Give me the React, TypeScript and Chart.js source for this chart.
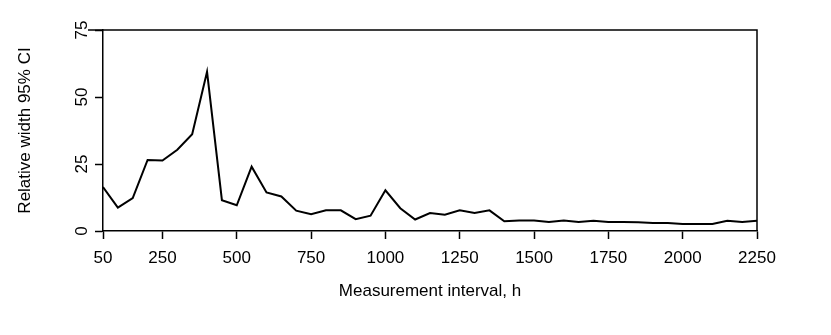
import React, { useEffect, useRef } from "react";
import { Chart, registerables } from "chart.js";

Chart.register(...registerables);

const intervals: number[] = [
  50, 100, 150, 200, 250, 300, 350, 400, 450, 500, 550, 600, 650, 700, 750,
  800, 850, 900, 950, 1000, 1050, 1100, 1150, 1200, 1250, 1300, 1350, 1400,
  1450, 1500, 1550, 1600, 1650, 1700, 1750, 1800, 1850, 1900, 1950, 2000,
  2050, 2100, 2150, 2200, 2250,
];
const relWidth: number[] = [
  16.4, 8.7, 12.3, 26.5, 26.3, 30.3, 36.1, 59.4, 11.5, 9.6, 24.0, 14.4, 12.9,
  7.6, 6.3, 7.7, 7.7, 4.4, 5.7, 15.2, 8.5, 4.3, 6.7, 6.1, 7.7, 6.7, 7.7, 3.6,
  3.9, 3.9, 3.4, 3.9, 3.4, 3.8, 3.4, 3.4, 3.3, 3.0, 3.0, 2.6, 2.6, 2.6, 3.8,
  3.4, 3.8,
];
const xTickValues: number[] = [50, 250, 500, 750, 1000, 1250, 1500, 1750, 2000, 2250];
const yTickValues: number[] = [0, 25, 50, 75];
const xTitle = "Measurement interval, h";
const yTitle = "Relative width 95% CI";

const FONT = "'Liberation Sans', Arial, Helvetica, sans-serif";

const framePlugin = {
  id: "frame",
  afterDraw(chart: any) {
    const { ctx, scales } = chart;
    const x = scales.x;
    const y = scales.y;
    const top = y.getPixelForValue(75);
    const right = x.getPixelForValue(2250);
    const left = x.getPixelForValue(50);
    const bottom = y.getPixelForValue(0);
    ctx.save();
    ctx.strokeStyle = "#000";
    ctx.lineWidth = 1.5;
    ctx.beginPath();
    ctx.moveTo(left - 15, top);
    ctx.lineTo(right, top);
    ctx.lineTo(right, bottom);
    ctx.stroke();
    ctx.restore();
  },
};

export default function App() {
  const ref = useRef<HTMLCanvasElement | null>(null);
  useEffect(() => {
    if (!ref.current) return;
    const chart = new Chart(ref.current, {
      type: "line",
      data: {
        datasets: [
          {
            data: intervals.map((v, i) => ({ x: v, y: relWidth[i] })),
            borderColor: "#000",
            borderWidth: 2,
            pointRadius: 0,
            tension: 0,
            fill: false,
          },
        ],
      },
      options: {
        animation: false,
        responsive: false,
        events: [],
        layout: { padding: { left: 0, top: 30, right: 74, bottom: 0 } },
        plugins: { legend: { display: false }, tooltip: { enabled: false } },
        scales: {
          x: {
            type: "linear",
            min: 50,
            max: 2250,
            afterBuildTicks: (s: any) => {
              s.ticks = xTickValues.map((v) => ({ value: v }));
            },
            afterFit: (s: any) => {
              s.height = 104;
            },
            grid: {
              drawOnChartArea: false,
              drawTicks: true,
              tickLength: 8,
              tickWidth: 1.5,
              tickColor: "#000",
            },
            border: { display: true, color: "#000", width: 1.5 },
            ticks: {
              color: "#000",
              font: { family: FONT, size: 17 },
              padding: 9,
              maxRotation: 0,
              minRotation: 0,
              autoSkip: false,
              callback: (v: any) => String(v),
            },
            title: {
              display: true,
              text: xTitle,
              color: "#000",
              font: { family: FONT, size: 17 },
              padding: { top: 0, bottom: 33 },
            },
          },
          y: {
            type: "linear",
            min: 0,
            max: 75,
            afterBuildTicks: (s: any) => {
              s.ticks = yTickValues.map((v) => ({ value: v }));
            },
            afterFit: (s: any) => {
              s.width = 103;
            },
            grid: {
              drawOnChartArea: false,
              drawTicks: true,
              tickLength: 8,
              tickWidth: 1.5,
              tickColor: "#000",
            },
            border: { display: true, color: "#000", width: 1.5 },
            ticks: {
              color: "#000",
              font: { family: FONT, size: 17 },
              padding: 3,
              minRotation: 90,
              maxRotation: 90,
              crossAlign: "center",
              autoSkip: false,
            },
            title: {
              display: true,
              text: yTitle,
              color: "#000",
              font: { family: FONT, size: 17 },
              padding: { top: 15, bottom: 0 },
            },
          },
        },
      },
      plugins: [framePlugin],
    });
    return () => chart.destroy();
  }, []);
  return (
    <div style={{ position: "absolute", left: 0, top: 0, width: 831, height: 335, background: "#fff" }}>
      <canvas ref={ref} width={831} height={335} style={{ display: "block" }} />
    </div>
  );
}
